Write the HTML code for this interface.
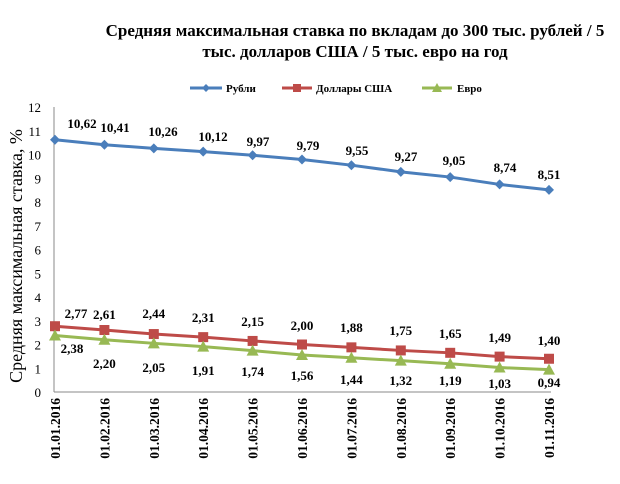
<!DOCTYPE html>
<html><head><meta charset="utf-8"><style>body{margin:0;background:#fff}</style></head><body>
<svg width="620" height="479" xmlns="http://www.w3.org/2000/svg" font-family="Liberation Serif, serif">
<text x="355" y="36" text-anchor="middle" font-size="17" font-weight="bold">Средняя максимальная ставка по вкладам до 300 тыс. рублей / 5</text>
<text x="355" y="57" text-anchor="middle" font-size="17" font-weight="bold">тыс. долларов США / 5 тыс. евро на год</text>
<g font-size="11" font-weight="bold">
<line x1="190" y1="88" x2="222" y2="88" stroke="#4a7ebb" stroke-width="3"/><path d="M206 84 L210 88 L206 92 L202 88Z" fill="#4a7ebb"/><text x="226" y="92">Рубли</text>
<line x1="282" y1="88" x2="312" y2="88" stroke="#be4b48" stroke-width="3"/><rect x="293" y="84" width="8" height="8" fill="#be4b48"/><text x="316" y="92">Доллары США</text>
<line x1="422" y1="88" x2="452" y2="88" stroke="#98b954" stroke-width="3"/><path d="M437 83 L442 92 L432 92Z" fill="#98b954"/><text x="457" y="92">Евро</text>
</g>
<line x1="54" y1="107" x2="54" y2="392" stroke="#888"/>
<line x1="54" y1="392" x2="551" y2="392" stroke="#888"/>
<g font-size="13" text-anchor="end" id="yt"></g>
<text transform="translate(22,256) rotate(-90)" text-anchor="middle" font-size="18">Средняя максимальная ставка, %</text>
<g id="g"></g>
</svg>
<script>
var ns="http://www.w3.org/2000/svg";
function el(t,a,p,txt){var e=document.createElementNS(ns,t);for(var k in a)e.setAttribute(k,a[k]);if(txt)e.textContent=txt;(p||document.getElementById('g')).appendChild(e);return e;}
var yt=document.getElementById('yt');
function Y(v){return 392-v*23.75}
for(var i=0;i<=12;i++)el('text',{x:41,y:Y(i)+5},yt,String(i));
var X=[];for(i=0;i<11;i++)X.push(55+i*49.4);
var r=[10.62,10.41,10.26,10.12,9.97,9.79,9.55,9.27,9.05,8.74,8.51];
var d=[2.77,2.61,2.44,2.31,2.15,2.00,1.88,1.75,1.65,1.49,1.40];
var e=[2.38,2.20,2.05,1.91,1.74,1.56,1.44,1.32,1.19,1.03,0.94];
function line(a,c){el('polyline',{points:a.map(function(v,i){return X[i]+','+Y(v)}).join(' '),fill:'none',stroke:c,'stroke-width':3});}
line(r,'#4a7ebb');line(d,'#be4b48');line(e,'#98b954');
var rx=[82,115,163,213,258,308,357,406,454,505,549],ry=[128,132,136,141,146,150,155,161,165,172,179];
var dx=X.slice();dx[0]=76;var dy=[318,319,318,322,326,330,332,335,338,342,345];
var ex=X.slice();ex[0]=72;var ey=[353,368,372,375,376,380,384,385,385,388,387];
function f(v){return v.toFixed(2).replace('.',',')}
for(i=0;i<11;i++){
 var x=X[i];
 el('path',{d:'M'+x+' '+(Y(r[i])-5)+' L'+(x+5)+' '+Y(r[i])+' L'+x+' '+(Y(r[i])+5)+' L'+(x-5)+' '+Y(r[i])+'Z',fill:'#4a7ebb'});
 el('rect',{x:x-5,y:Y(d[i])-5,width:10,height:10,fill:'#be4b48'});
 el('path',{d:'M'+x+' '+(Y(e[i])-6)+' L'+(x+6)+' '+(Y(e[i])+5)+' L'+(x-6)+' '+(Y(e[i])+5)+'Z',fill:'#98b954'});
 var o={'text-anchor':'middle','font-size':13,'font-weight':'bold'};
 o.x=rx[i];o.y=ry[i];el('text',o,null,f(r[i]));
 o=Object.assign({},o);o.x=dx[i];o.y=dy[i];el('text',o,null,f(d[i]));
 o=Object.assign({},o);o.x=ex[i];o.y=ey[i];el('text',o,null,f(e[i]));
 var m=(i+1<10?'0':'')+(i+1);
 el('text',{transform:'translate('+(x+5)+',398) rotate(-90)','text-anchor':'end','font-size':13.5,'font-weight':'bold'},null,'01.'+m+'.2016');
}
</script>
</body></html>
